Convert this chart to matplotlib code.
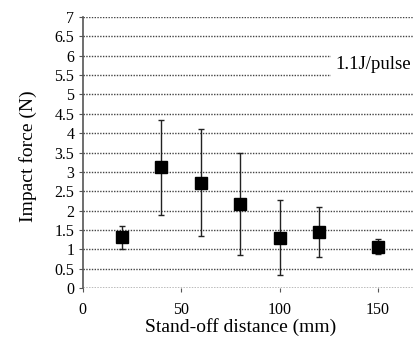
import matplotlib
matplotlib.use("Agg")
import matplotlib.pyplot as plt

distance = [20, 40, 60, 80, 100, 120, 150]
force = [1.31, 3.12, 2.72, 2.18, 1.30, 1.46, 1.07]
err_low = [1.00, 1.90, 1.35, 0.86, 0.33, 0.80, 0.88]
err_high = [1.61, 4.33, 4.10, 3.50, 2.27, 2.10, 1.28]
yticks = [0, 0.5, 1, 1.5, 2, 2.5, 3, 3.5, 4, 4.5, 5, 5.5, 6, 6.5, 7]
ytick_labels = ["0", "0.5", "1", "1.5", "2", "2.5", "3", "3.5", "4", "4.5", "5", "5.5", "6", "6.5", "7"]
xticks = [0, 50, 100, 150]

plt.rcParams['font.family'] = ['Liberation Serif', 'DejaVu Serif']

fig = plt.figure(figsize=(4.13, 3.39), dpi=100)
ax = fig.add_axes([0.200, 0.150, 0.800, 0.800])

yerr = [[f - lo for f, lo in zip(force, err_low)], [hi - f for f, hi in zip(force, err_high)]]
ax.errorbar(distance, force, yerr=yerr, fmt='s', color='black', ms=8.5,
            ecolor='#222222', elinewidth=1.0, capsize=2.5, capthick=1.0, zorder=3)

ax.set_xlim(0, 167.7)
ax.set_ylim(0, 7)
ax.set_yticks(yticks)
ax.set_yticklabels(ytick_labels)
ax.set_xticks(xticks)
ax.yaxis.grid(True, linestyle=(0, (1, 1)), color='#444444', linewidth=1.0)
ax.set_axisbelow(True)

for s in ['top', 'right', 'bottom']:
    ax.spines[s].set_visible(False)
ax.spines['left'].set_color('#555555')
ax.spines['left'].set_linewidth(1.2)
ax.axhline(0, color='#444444', linestyle=(0, (1, 1)), linewidth=1.0, zorder=1)

ax.tick_params(axis='y', length=3, color='#555555', labelsize=11.5, pad=3)
ax.tick_params(axis='x', length=3, color='#555555', labelsize=11.5, pad=7)

ax.set_xlabel("Stand-off distance (mm)", fontsize=14)
ax.set_ylabel("Impact force (N)", fontsize=14)
ax.xaxis.set_label_coords(0.479, -0.112)
ax.yaxis.set_label_coords(-0.137, 0.487)

ax.text(166.5, 5.76, "1.1J/pulse", ha='right', va='center', fontsize=13.5,
        bbox=dict(facecolor='white', edgecolor='none', pad=3), zorder=4)

fig.savefig("out.png", dpi=100)
